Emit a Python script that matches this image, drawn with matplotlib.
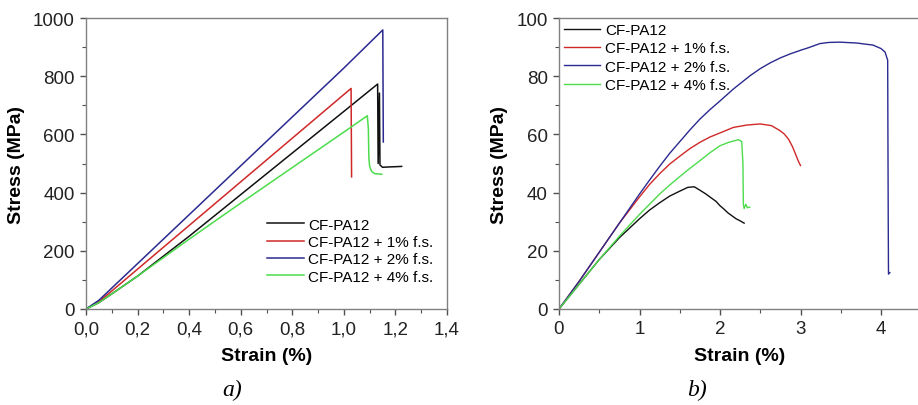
import matplotlib
matplotlib.use("Agg")
from matplotlib import pyplot as plt
from matplotlib.ticker import MultipleLocator, FuncFormatter

plt.rcParams['font.family'] = ['Liberation Sans', 'DejaVu Sans']

# legend labels and colours
labels = ['CF-PA12', 'CF-PA12 + 1% f.s.', 'CF-PA12 + 2% f.s.', 'CF-PA12 + 4% f.s.']
colors = ['#111111', '#d02828', '#2a2a90', '#4cdc4c']

# a) tensile curves (strain %, stress MPa)
a_strain_0 = [0, 0.05, 0.1, 0.2, 0.4, 0.6, 0.8, 1.0, 1.131, 1.133, 1.138, 1.140, 1.15, 1.17, 1.20, 1.224]
a_stress_0 = [0, 22, 52, 113, 250, 393, 536, 679, 773, 500, 742, 495, 487, 488, 489, 490]
a_strain_1 = [0, 0.05, 0.1, 0.2, 0.4, 0.6, 0.8, 1.0, 1.028, 1.030]
a_stress_1 = [0, 25, 62, 137, 287, 437, 587, 737, 758, 454]
a_strain_2 = [0, 0.05, 0.1, 0.2, 0.4, 0.6, 0.8, 1.0, 1.151, 1.153]
a_stress_2 = [0, 30, 72, 156, 324, 492, 660, 828, 959, 574]
a_strain_4 = [0, 0.05, 0.1, 0.2, 0.4, 0.6, 0.8, 1.0, 1.091, 1.095, 1.097, 1.100, 1.108, 1.12, 1.147]
a_stress_4 = [0, 22, 52, 113, 240, 364, 486, 608, 664, 620, 520, 490, 472, 465, 463]

# b) curves
b_strain_0 = [0, 0.25, 0.5, 0.75, 1.0, 1.125, 1.25, 1.375, 1.5, 1.6, 1.68, 1.752, 1.82, 1.9, 1.95,
              2.0, 2.05, 2.1, 2.15, 2.2, 2.25, 2.3]
b_stress_0 = [0, 8.5, 17, 24.5, 31, 34, 36.5, 38.8, 40.5, 41.8, 42, 40.8, 39.6, 38, 37,
              35.5, 34.3, 33, 32, 31, 30.3, 29.5]
b_strain_1 = [0, 0.25, 0.5, 0.75, 1.0, 1.125, 1.25, 1.375, 1.5, 1.625, 1.752, 1.875, 2.0, 2.166,
              2.33, 2.5, 2.64, 2.745, 2.8, 2.85, 2.9, 2.93, 2.97, 3.0]
b_stress_1 = [0, 9.5, 19.5, 29.5, 38.5, 42.8, 46.5, 49.8, 52.5, 55.1, 57.3, 59.1, 60.5, 62.4,
              63.2, 63.6, 63.0, 61.3, 60.1, 58.4, 55.8, 53.8, 51.0, 49.3]
b_strain_2 = [0, 0.25, 0.5, 0.75, 1.0, 1.125, 1.25, 1.375, 1.5, 1.625, 1.752, 1.875, 2.0, 2.166,
              2.375, 2.5, 2.625, 2.75, 2.875, 3.0, 3.1, 3.24, 3.35, 3.49, 3.7,
              3.78, 3.9, 4.0, 4.05, 4.083, 4.086, 4.09, 4.093, 4.11]
b_stress_2 = [0, 9.5, 19.5, 29.5, 39.5, 44.3, 49, 53.5, 57.5, 61.5, 65.3, 68.5, 71.5, 75.6,
              80.2, 82.6, 84.6, 86.3, 87.7, 88.9, 89.8, 91.2, 91.6, 91.7, 91.4,
              91.1, 90.7, 89.5, 88.3, 85.5, 60, 30, 12, 12.5]
b_strain_4 = [0, 0.25, 0.5, 0.75, 1.0, 1.125, 1.25, 1.375, 1.5, 1.625, 1.752, 1.875, 2.0, 2.1, 2.23,
              2.27, 2.285, 2.29, 2.30, 2.32, 2.34, 2.37]
b_stress_4 = [0, 8.5, 17, 25, 32.5, 36, 39.5, 42.6, 45.5, 48.3, 51.0, 53.7, 56.1, 57.2, 58.2,
              57.5, 50, 36, 34.5, 36, 34.8, 35]

a_curves = [(a_strain_0, a_stress_0), (a_strain_1, a_stress_1), (a_strain_2, a_stress_2), (a_strain_4, a_stress_4)]
b_curves = [(b_strain_0, b_stress_0), (b_strain_1, b_stress_1), (b_strain_2, b_stress_2), (b_strain_4, b_stress_4)]

fig = plt.figure(figsize=(9.18, 4.06), dpi=100)
ax1 = fig.add_axes([86 / 918, 96 / 406, 361 / 918, 291 / 406])
ax2 = fig.add_axes([559 / 918, 96 / 406, 362.25 / 918, 291 / 406])


def style(ax):
    for s in ax.spines.values():
        s.set_color('#808080')
        s.set_linewidth(1.0)
    ax.tick_params(which='both', direction='out', color='#505050', labelsize=13.5, labelcolor='#222222')
    ax.tick_params(which='major', length=4.5, width=1)
    ax.tick_params(which='minor', length=3, width=0.8)
    ax.tick_params(top=False, right=False)


# panel a
for (x, y), c, lab in zip(a_curves, colors, labels):
    ax1.plot(x, y, color=c, lw=1.1, label=lab)
ax1.set_xlim(0, 1.4)
ax1.set_ylim(0, 1000)
ax1.xaxis.set_major_locator(MultipleLocator(0.2))
ax1.xaxis.set_minor_locator(MultipleLocator(0.1))
ax1.yaxis.set_major_locator(MultipleLocator(200))
ax1.yaxis.set_minor_locator(MultipleLocator(100))
ax1.xaxis.set_major_formatter(FuncFormatter(lambda v, p: f"{v:.1f}".replace('.', ',')))
style(ax1)
ax1.set_xlabel('Strain (%)', fontsize=14, fontweight='bold', labelpad=7)
ax1.set_ylabel('Stress (MPa)', fontsize=14, fontweight='bold', labelpad=6)
ax1.legend(loc='lower right', frameon=False, fontsize=11, handlelength=2.4, handletextpad=0.3,
           labelspacing=0.22, bbox_to_anchor=(1.0, 0.04))

# panel b
for (x, y), c, lab in zip(b_curves, colors, labels):
    ax2.plot(x, y, color=c, lw=1.0, label=lab)
ax2.set_xlim(0, 4.5)
ax2.set_ylim(0, 100)
ax2.xaxis.set_major_locator(MultipleLocator(1))
ax2.xaxis.set_minor_locator(MultipleLocator(0.5))
ax2.yaxis.set_major_locator(MultipleLocator(20))
ax2.yaxis.set_minor_locator(MultipleLocator(10))
style(ax2)
ax2.set_xlabel('Strain (%)', fontsize=14, fontweight='bold', labelpad=7)
ax2.set_ylabel('Stress (MPa)', fontsize=14, fontweight='bold', labelpad=6)
ax2.legend(loc='upper left', frameon=False, fontsize=11, handlelength=2.4, handletextpad=0.3,
           labelspacing=0.28, bbox_to_anchor=(-0.025, 1.03))

# captions
fig.text(232 / 918, 1 - 390 / 406, 'a)', fontsize=17, style='italic', family='Liberation Serif',
         ha='center', va='center')
fig.text(697 / 918, 1 - 390 / 406, 'b)', fontsize=17, style='italic', family='Liberation Serif',
         ha='center', va='center')

fig.savefig('out.png', dpi=100)
